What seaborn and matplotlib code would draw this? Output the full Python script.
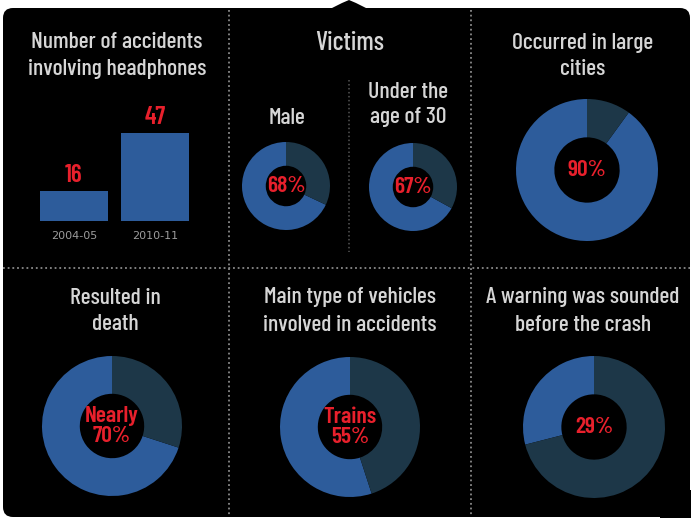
import matplotlib
matplotlib.use("Agg")
import matplotlib.pyplot as plt
import seaborn as sns
from matplotlib.patches import FancyBboxPatch, Polygon

# ---------------- data ----------------
bar_title = "Number of accidents\ninvolving headphones"
periods = ["2004-05", "2010-11"]
accidents = [16, 47]

group_title = "Victims"
donut_titles = ["Male", "Under the\nage of 30", "Occurred in large\ncities",
                "Resulted in\ndeath", "Main type of vehicles\ninvolved in accidents",
                "A warning was sounded\nbefore the crash"]
donut_shares = [68, 67, 90, 70, 55, 29]
donut_labels = ["68%", "67%", "90%", "Nearly\n70%", "Trains\n55%", "29%"]

# ---------------- style ----------------
sns.set_theme(style="dark")
COND = ['Barlow Condensed', 'DejaVu Sans']
plt.rcParams['font.family'] = COND

BLUE = "#2d5c9b"
DARK = "#1d3748"
RED = "#e8202c"
TXT = "#d6d6d6"
GRID = "#8a8a8a"

W, H = 691, 518
fig = plt.figure(figsize=(W / 100, H / 100), dpi=100, facecolor="white")


def px_axes(x0, y0, w, h):
    return fig.add_axes([x0 / W, 1 - (y0 + h) / H, w / W, h / H])


# background panel
bg = px_axes(0, 0, W, H)
bg.set_xlim(0, W)
bg.set_ylim(H, 0)
bg.axis("off")
bg.add_patch(FancyBboxPatch((13, 18), 667, 489, boxstyle="round,pad=10",
                            fc="black", ec="none"))
bg.add_patch(Polygon([(330, 9), (342, 3), (349, 0), (356, 3), (368, 9)],
                     closed=True, fc="black", ec="none"))
bg.add_patch(plt.Rectangle((660, 490), 40, 40, fc="black", ec="none"))

# dotted dividers
dot = dict(color=GRID, lw=1.3, ls=(0, (1, 1.6)))
bg.plot([229, 229], [10, 517], **dot)
bg.plot([471, 471], [10, 517], **dot)
bg.plot([3, 690], [268, 268], **dot)
bg.plot([349, 349], [80, 252], color="#555555", lw=1.1, ls=(0, (1, 1.6)))


def title(x, y_first, text, step=27, size=17):
    for i, line in enumerate(text.split("\n")):
        bg.text(x, y_first + i * step, line, ha="center", va="center",
                color=TXT, fontsize=size, fontweight="medium", family=COND)


title(117, 42, bar_title)
title(350, 43, group_title, size=19)
title(287, 118, donut_titles[0])
title(408, 92, donut_titles[1], step=25)
title(583, 43, donut_titles[2], step=26)
title(115, 298, donut_titles[3], step=26)
title(350, 297, donut_titles[4], step=28)
title(583, 297, donut_titles[5], step=28)

# ---------------- bar chart ----------------
axb = px_axes(33, 109, 163, 112)
sns.barplot(x=periods, y=accidents, color=BLUE, saturation=1, width=0.84,
            edgecolor="none", linewidth=0, ax=axb)
axb.set_xlim(-0.5, 1.5)
axb.set_ylim(0, 60)
axb.set_facecolor("none")
for s in axb.spines.values():
    s.set_visible(False)
axb.set_yticks([])
axb.set_xlabel("")
axb.set_ylabel("")
axb.tick_params(axis="x", length=0, pad=7, labelsize=8, labelcolor="#9c9c9c")
for t in axb.get_xticklabels():
    t.set_family(['DejaVu Sans'])
axb.bar_label(axb.containers[0], padding=3, color=RED, fontsize=18,
              fontweight="semibold", family=COND)

# ---------------- donuts ----------------
places = [(286, 186, 44), (413, 187, 44), (587, 170, 71),
          (112, 426, 70), (350, 427, 70), (594, 427, 71)]
for (cx, cy, r), share, lab in zip(places, donut_shares, donut_labels):
    ax = px_axes(cx - r, cy - r, 2 * r, 2 * r)
    ax.pie([share, 100 - share], colors=[BLUE, DARK], startangle=90,
           counterclock=True, radius=1,
           wedgeprops=dict(width=0.54, edgecolor="none"))
    ax.set_xlim(-1, 1)
    ax.set_ylim(-1, 1)
    ax.set_facecolor("none")
    ax.axis("off")
    ax.text(0, 0, lab, ha="center", va="center", color=RED, fontsize=17,
            fontweight="semibold", family=COND, linespacing=1.0)

fig.savefig("out.png", dpi=100, facecolor="white")
